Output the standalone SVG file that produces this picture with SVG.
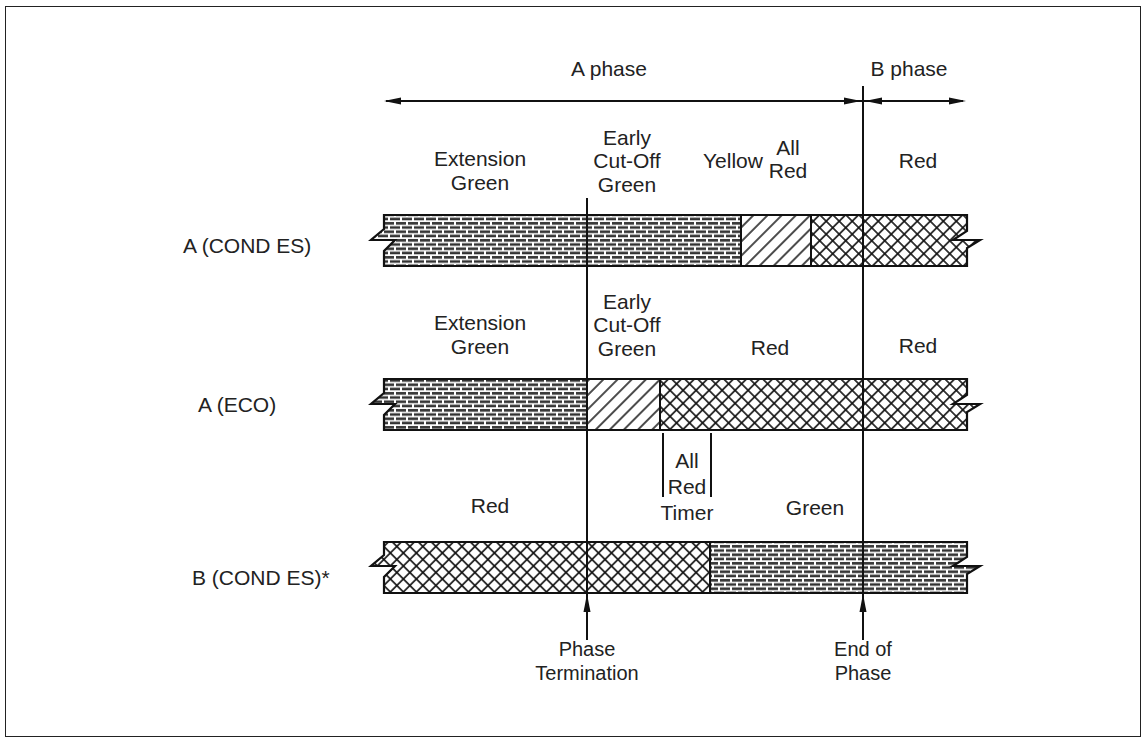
<svg xmlns="http://www.w3.org/2000/svg" width="1147" height="742" viewBox="0 0 1147 742">
<style>
.t{font-family:"Liberation Sans",Arial,sans-serif;font-size:21px;fill:#222;text-anchor:middle}
.b{font-family:"Liberation Sans",Arial,sans-serif;font-size:20px;fill:#222;text-anchor:middle}
.l{font-family:"Liberation Sans",Arial,sans-serif;font-size:21px;fill:#222}
.ln{stroke:#111;stroke-width:2;fill:none}
.ol{stroke:#111;stroke-width:2.2;fill:none;stroke-linejoin:miter}
.ah{fill:#111}
</style>
<defs>
<pattern id="brick" width="12" height="8.5" patternUnits="userSpaceOnUse">
<rect width="12" height="8.5" fill="#fff"/>
<rect x="0" y="1" width="10" height="2.6" fill="#333"/>
<rect x="6" y="5.2" width="10" height="2.6" fill="#333"/>
<rect x="-6" y="5.2" width="10" height="2.6" fill="#333"/>
</pattern>
<pattern id="diag" width="10" height="10" patternUnits="userSpaceOnUse" patternTransform="rotate(45)">
<rect width="10" height="10" fill="#fff"/>
<line x1="5" y1="0" x2="5" y2="10" stroke="#111" stroke-width="1.5"/>
</pattern>
<pattern id="cross" width="9.2" height="9.2" patternUnits="userSpaceOnUse" patternTransform="rotate(45)">
<rect width="9.2" height="9.2" fill="#fff"/>
<line x1="4.6" y1="0" x2="4.6" y2="9.2" stroke="#111" stroke-width="1.6"/>
<line x1="0" y1="4.6" x2="9.2" y2="4.6" stroke="#111" stroke-width="1.6"/>
</pattern>
<clipPath id="c1"><path clip-rule="evenodd" d="M384,215 H967 V231 L953,240 H980 L967,248 V266 H384 V251 L395,240 H371 L384,229 Z"/></clipPath>
<clipPath id="c2"><path clip-rule="evenodd" d="M384,379 H967 V395 L953,404 H980 L967,412 V430 H384 V415 L395,404 H371 L384,393 Z"/></clipPath>
<clipPath id="c3"><path clip-rule="evenodd" d="M384,542 H967 V557 L953,566 H980 L967,574 V593 H384 V577 L395,566 H371 L384,555 Z"/></clipPath>
</defs>
<rect x="5.5" y="6.5" width="1135" height="730" fill="#fff" stroke="#222" stroke-width="1"/>

<g id="phase-header">
<text class="t" x="609" y="76">A phase</text>
<text class="t" x="909" y="76">B phase</text>
</g>

<g id="bar-a-cond-es">
<text class="l" x="183" y="253">A (COND  ES)</text>
<text class="t" x="480" y="166">Extension</text>
<text class="t" x="480" y="190">Green</text>
<text class="t" x="627" y="145">Early</text>
<text class="t" x="627" y="168">Cut-Off</text>
<text class="t" x="627" y="192">Green</text>
<text class="t" x="733" y="168">Yellow</text>
<text class="t" x="788" y="155">All</text>
<text class="t" x="788" y="178">Red</text>
<text class="t" x="918" y="168">Red</text>
<g clip-path="url(#c1)">
<rect x="360" y="210" width="381" height="60" fill="url(#brick)"/>
<rect x="741" y="210" width="70" height="60" fill="url(#diag)"/>
<rect x="811" y="210" width="180" height="60" fill="url(#cross)"/>
</g>
<path class="ln" d="M741,215 V266 M811,215 V266"/>
<path class="ol" d="M384,215 H967 V231 L953,240 H980 L967,248 V266 H384 V251 L395,240 H371 L384,229 Z"/>
</g>

<g id="bar-a-eco">
<text class="l" x="198" y="412">A (ECO)</text>
<text class="t" x="480" y="330">Extension</text>
<text class="t" x="480" y="354">Green</text>
<text class="t" x="627" y="309">Early</text>
<text class="t" x="627" y="332">Cut-Off</text>
<text class="t" x="627" y="356">Green</text>
<text class="t" x="770" y="355">Red</text>
<text class="t" x="918" y="353">Red</text>
<g clip-path="url(#c2)">
<rect x="360" y="374" width="227" height="60" fill="url(#brick)"/>
<rect x="587" y="374" width="73" height="60" fill="url(#diag)"/>
<rect x="660" y="374" width="330" height="60" fill="url(#cross)"/>
</g>
<path class="ln" d="M660,379 V430"/>
<path class="ol" d="M384,379 H967 V395 L953,404 H980 L967,412 V430 H384 V415 L395,404 H371 L384,393 Z"/>
</g>

<g id="all-red-timer">
<path class="ln" d="M663,433 V497 M711,433 V497"/>
<text class="t" x="687" y="468">All</text>
<text class="t" x="687" y="494">Red</text>
<text class="t" x="687" y="520">Timer</text>
</g>

<g id="bar-b-cond-es">
<text class="l" x="192" y="585">B (COND ES)*</text>
<text class="t" x="490" y="513">Red</text>
<text class="t" x="815" y="515">Green</text>
<g clip-path="url(#c3)">
<rect x="360" y="537" width="350" height="60" fill="url(#cross)"/>
<rect x="710" y="537" width="280" height="60" fill="url(#brick)"/>
</g>
<path class="ln" d="M710,542 V593"/>
<path class="ol" d="M384,542 H967 V557 L953,566 H980 L967,574 V593 H384 V577 L395,566 H371 L384,555 Z"/>
</g>

<g id="connectors">
<path class="ln" d="M386,101 H963"/>
<polygon class="ah" points="384,101 401,97.5 401,104.5"/>
<polygon class="ah" points="861,101 844,97.5 844,104.5"/>
<polygon class="ah" points="865,101 882,97.5 882,104.5"/>
<polygon class="ah" points="966,101 949,97.5 949,104.5"/>
<path class="ln" d="M863,86 V640"/>
<path class="ln" d="M587,198 V640"/>
<polygon class="ah" points="587,594 583.5,612 590.5,612"/>
<polygon class="ah" points="863,594 859.5,612 866.5,612"/>
</g>

<g id="markers-text">
<text class="b" x="587" y="656">Phase</text>
<text class="b" x="587" y="680">Termination</text>
<text class="b" x="863" y="656">End of</text>
<text class="b" x="863" y="680">Phase</text>
</g>
</svg>
